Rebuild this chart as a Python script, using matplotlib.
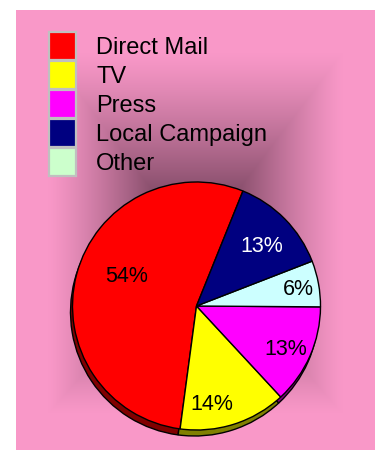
import numpy as np
import matplotlib
matplotlib.use('Agg')
import matplotlib.pyplot as plt
from matplotlib.patches import Patch

plt.rcParams['font.family'] = ['Liberation Sans', 'DejaVu Sans']

# legend entries
channels = ['Direct Mail', 'TV', 'Press', 'Local Campaign', 'Other']
legend_colors = ['#FF0000', '#FFFF00', '#FF00FF', '#000080', '#CCFFCC']

# pie slices, counter-clockwise from the top right
pie_labels = ['Direct Mail', 'TV', 'Press', 'Other', 'Local Campaign']
pie_values = [54, 14, 13, 6, 13]
pie_colors = ['#FF0000', '#FFFF00', '#FF00FF', '#CCFFFF', '#000080']
side_colors = ['#800000', '#808000', '#800080', '#668080', '#000040']
pct_colors = ['black', 'black', 'black', 'black', 'white']
pct_radius = [0.61, 0.80, 0.80, 0.83, 0.71]
pct_shift = [-8, -9, -2, -1, -2]

W, H = 375, 450
fig = plt.figure(figsize=(3.75, 4.5), dpi=100)
ax = fig.add_axes([0, 0, 1, 1])

# pink background, path gradient darker toward an off-centre point
x0, x1, ytop, ybot = 16, 375, 10, 450
xs = np.arange(x0, x1) + 0.5
ys = np.arange(ytop, ybot) + 0.5
X, Y = np.meshgrid(xs, ys)
cx, cy = 195, 247
tx = np.where(X < cx, (cx - X) / (cx - x0), (X - cx) / (x1 - cx))
ty = np.where(Y < cy, (cy - Y) / (cy - ytop), (Y - cy) / (ybot - cy))
t = np.maximum(tx, ty)
s = np.clip((0.82 - t) / 0.82, 0, 1) ** 1.2
edge = np.array([249, 152, 200]) / 255
dark = np.array([80, 42, 62]) / 255
img = edge + (dark - edge) * s[..., None]
ax.imshow(img, extent=(x0, x1, H - ybot, H - ytop), origin='upper',
          interpolation='bilinear', zorder=0)

pc = (196.5, H - 306)
rad = 124
start = 68

# side of the pie (depth)
ax.pie(pie_values, colors=side_colors, startangle=start, counterclock=True,
       center=(pc[0] - 2, pc[1] - 6), radius=rad,
       wedgeprops=dict(edgecolor='black', linewidth=1.0))

wedges, _ = ax.pie(pie_values, colors=pie_colors, startangle=start,
                   counterclock=True, center=pc, radius=rad,
                   wedgeprops=dict(edgecolor='black', linewidth=1.0))

for w, v, c, r, sh in zip(wedges, pie_values, pct_colors, pct_radius, pct_shift):
    ang = np.deg2rad((w.theta1 + w.theta2) / 2 + sh)
    ax.text(pc[0] + r * rad * np.cos(ang), pc[1] + r * rad * np.sin(ang),
            '{}%'.format(v), ha='center', va='center', fontsize=15.5,
            color=c, zorder=5)

handles = [Patch(facecolor=c, edgecolor='#C0C0C0', linewidth=1.6) for c in legend_colors]
ax.legend(handles, channels, loc='upper left', bbox_to_anchor=(49 / W, 1 - 32 / H),
          frameon=False, fontsize=17, handlelength=1.15, handleheight=1.42,
          handletextpad=0.85, labelspacing=0.06, borderpad=0, borderaxespad=0)

ax.set_xlim(0, W)
ax.set_ylim(0, H)
ax.set_aspect('equal')
ax.axis('off')

fig.savefig('out.png', dpi=100, facecolor='white')
